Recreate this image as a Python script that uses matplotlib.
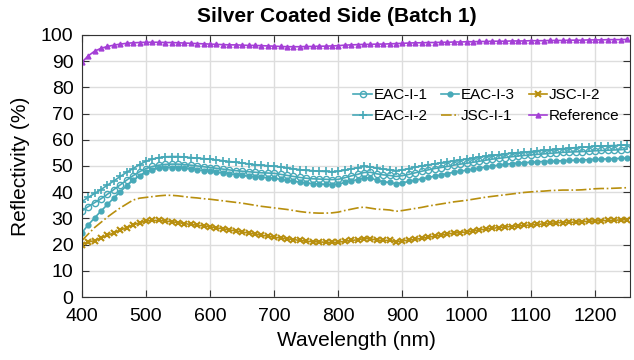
import numpy as np
import matplotlib
matplotlib.use("Agg")
import matplotlib.pyplot as plt

plt.rcParams['font.family'] = ['Liberation Sans', 'DejaVu Sans']

# Wavelength grid (nm), 10 nm steps
wavelength = np.arange(400, 1260, 10)

eac_i_1 = [32.8, 34.5, 36.0, 37.5, 39.2, 41.0, 42.8, 44.6, 46.3, 47.8,
           49.0, 49.8, 50.3, 50.6, 50.7, 50.7, 50.5, 50.3, 50.0, 49.7,
           49.4, 49.1, 48.8, 48.5, 48.2, 48.0, 47.8, 47.6, 47.4, 47.3,
           47.2, 46.8, 46.4, 46.0, 45.6, 45.3, 45.1, 45.0, 44.9, 44.8,
           44.9, 45.5, 46.2, 46.8, 47.5, 47.6, 47.0, 46.6, 46.4, 46.0,
           46.3, 46.8, 47.4, 48.0, 48.5, 49.0, 49.4, 49.8, 50.3, 50.7,
           51.0, 51.4, 51.8, 52.2, 52.6, 52.9, 53.2, 53.5, 53.8, 54.0,
           54.2, 54.4, 54.6, 54.8, 55.0, 55.2, 55.3, 55.4, 55.5, 55.6,
           55.8, 55.9, 56.0, 56.1, 56.2, 56.4]

eac_i_2 = [36.4, 38.0, 39.5, 41.0, 42.7, 44.3, 46.0, 47.6, 49.0, 50.5,
           51.8, 52.6, 53.2, 53.5, 53.6, 53.6, 53.4, 53.2, 53.0, 52.8,
           52.6, 52.3, 52.0, 51.7, 51.4, 51.1, 50.8, 50.5, 50.3, 50.1,
           49.9, 49.6, 49.3, 48.9, 48.6, 48.3, 48.2, 48.0, 47.9, 47.8,
           47.9, 48.4, 48.9, 49.3, 49.8, 49.7, 49.1, 48.8, 48.6, 48.2,
           48.5, 49.0, 49.5, 50.0, 50.4, 50.8, 51.2, 51.6, 52.0, 52.3,
           52.6, 53.0, 53.4, 53.7, 54.0, 54.3, 54.6, 54.9, 55.1, 55.3,
           55.5, 55.8, 56.0, 56.2, 56.4, 56.6, 56.8, 57.0, 57.1, 57.3,
           57.5, 57.6, 57.7, 57.8, 57.9, 58.0]

eac_i_3 = [24.5, 27.5, 30.2, 32.8, 35.3, 37.8, 40.2, 42.5, 44.5, 46.3,
           47.8, 48.6, 49.1, 49.3, 49.4, 49.3, 49.1, 48.8, 48.5, 48.2,
           47.9, 47.6, 47.3, 47.0, 46.7, 46.4, 46.1, 45.9, 45.7, 45.5,
           45.3, 44.9, 44.5, 44.2, 43.8, 43.5, 43.3, 43.1, 43.0, 42.9,
           43.1, 43.7, 44.3, 44.8, 45.4, 45.5, 44.5, 44.0, 43.7, 43.2,
           43.6, 44.1, 44.6, 45.1, 45.6, 46.1, 46.6, 47.1, 47.6, 48.0,
           48.4, 48.8, 49.2, 49.6, 50.0, 50.3, 50.6, 50.9, 51.1, 51.3,
           51.4, 51.6, 51.7, 51.8, 51.9, 52.0, 52.1, 52.2, 52.3, 52.4,
           52.5, 52.6, 52.7, 52.8, 52.9, 53.0]

jsc_i_1 = [21.5, 24.0, 26.5, 28.5, 30.5, 32.3, 34.0, 35.5, 37.0, 37.7,
           38.0, 38.3, 38.6, 38.8, 38.8, 38.6, 38.3, 38.0, 37.8, 37.5,
           37.3, 37.0, 36.7, 36.4, 36.1, 35.8, 35.4, 35.0, 34.6, 34.3,
           34.0, 33.7, 33.4, 33.0, 32.6, 32.3, 32.1, 32.0, 32.0, 32.1,
           32.4, 33.0, 33.5, 34.0, 34.3, 33.9, 33.5, 33.4, 33.2, 32.7,
           33.0, 33.4, 33.8, 34.2, 34.7, 35.1, 35.5, 35.9, 36.3, 36.6,
           36.9, 37.3, 37.7, 38.1, 38.4, 38.7, 39.0, 39.3, 39.6, 39.9,
           40.1, 40.3, 40.4, 40.6, 40.7, 40.8, 40.8, 40.8, 40.9, 41.1,
           41.3, 41.4, 41.4, 41.5, 41.6, 41.7]

jsc_i_2 = [20.0, 21.0, 21.5, 22.5, 23.5, 24.5, 25.5, 26.5, 27.5, 28.3,
           29.0, 29.2, 29.2, 29.0, 28.7, 28.4, 28.0, 27.7, 27.4, 27.1,
           26.8, 26.4, 26.0, 25.6, 25.2, 24.8, 24.4, 24.0, 23.6, 23.2,
           22.8, 22.5, 22.2, 21.9, 21.6, 21.3, 21.1, 21.0, 20.9, 20.8,
           20.9, 21.3, 21.6, 21.8, 22.3, 22.2, 21.7, 21.6, 21.6, 21.1,
           21.4, 21.7, 22.0, 22.4, 22.8, 23.2, 23.6, 24.0, 24.4, 24.6,
           24.8, 25.2, 25.6, 25.9, 26.2, 26.5, 26.7, 26.9, 27.1, 27.3,
           27.5, 27.7, 27.9, 28.1, 28.3, 28.4, 28.5, 28.6, 28.7, 28.9,
           29.0, 29.1, 29.2, 29.3, 29.4, 29.5]

reference = [89.5, 92.0, 93.8, 94.9, 95.6, 96.1, 96.5, 96.8, 97.0, 97.1,
             97.2, 97.2, 97.2, 97.1, 97.1, 97.0, 96.9, 96.8, 96.7, 96.6,
             96.5, 96.4, 96.3, 96.2, 96.2, 96.1, 96.0, 96.0, 95.9, 95.8,
             95.7, 95.6, 95.5, 95.5, 95.5, 95.6, 95.6, 95.7, 95.7, 95.8,
             95.9, 96.1, 96.2, 96.3, 96.4, 96.4, 96.5, 96.5, 96.6, 96.7,
             96.8, 96.9, 97.0, 97.0, 97.1, 97.1, 97.2, 97.2, 97.3, 97.3,
             97.4, 97.4, 97.5, 97.5, 97.6, 97.6, 97.6, 97.7, 97.7, 97.7,
             97.8, 97.8, 97.8, 97.9, 97.9, 97.9, 98.0, 98.0, 98.0, 98.1,
             98.1, 98.1, 98.2, 98.2, 98.2, 98.3]

teal = '#47a9b8'
gold = '#b88f0e'
purple = '#a43fd6'

fig = plt.figure(figsize=(6.34, 3.6), dpi=100)
ax = fig.add_axes([0.129, 0.175, 0.865, 0.728])

ax.plot(wavelength, eac_i_1, color=teal, lw=1.2, marker='o', ms=4.5,
        mfc='none', mew=1.0, label='EAC-I-1')
ax.plot(wavelength, eac_i_2, color=teal, lw=1.2, marker='+', ms=6,
        mew=1.2, label='EAC-I-2')
ax.plot(wavelength, eac_i_3, color=teal, lw=1.2, marker='o', ms=3.5,
        label='EAC-I-3')
ax.plot(wavelength, jsc_i_1, color=gold, lw=1.2, ls='-.', label='JSC-I-1')
ax.plot(wavelength, jsc_i_2, color=gold, lw=1.2, marker='x', ms=4,
        mew=1.5, label='JSC-I-2')
ax.plot(wavelength, reference, color=purple, lw=1.2, marker='^', ms=3.5,
        label='Reference')

ax.set_xlim(400, 1255)
ax.set_ylim(0, 100)
ax.set_xticks(np.arange(400, 1201, 100))
ax.set_yticks(np.arange(0, 101, 10))
ax.tick_params(direction='in', top=True, right=True, labelsize=14, length=5,
               color='#333333')
ax.tick_params(axis='x', pad=8)
ax.tick_params(axis='y', pad=6)
ax.grid(True, color='#dddddd', lw=1)
ax.set_axisbelow(True)
for s in ax.spines.values():
    s.set_color('#333333')

fig.text(337 / 634, 1 - 17 / 360, 'Silver Coated Side (Batch 1)', fontsize=15,
         fontweight='bold', ha='center', va='center')
ax.set_xlabel('Wavelength (nm)', fontsize=15, labelpad=4)
ax.set_ylabel('Reflectivity (%)', fontsize=15, labelpad=8)

ax.legend(ncol=3, frameon=False, fontsize=11, handlelength=1.2,
          handletextpad=0.1, columnspacing=0.9, labelspacing=0.45,
          loc='upper right', bbox_to_anchor=(1.005, 0.85))

fig.savefig('out.png', dpi=100)
